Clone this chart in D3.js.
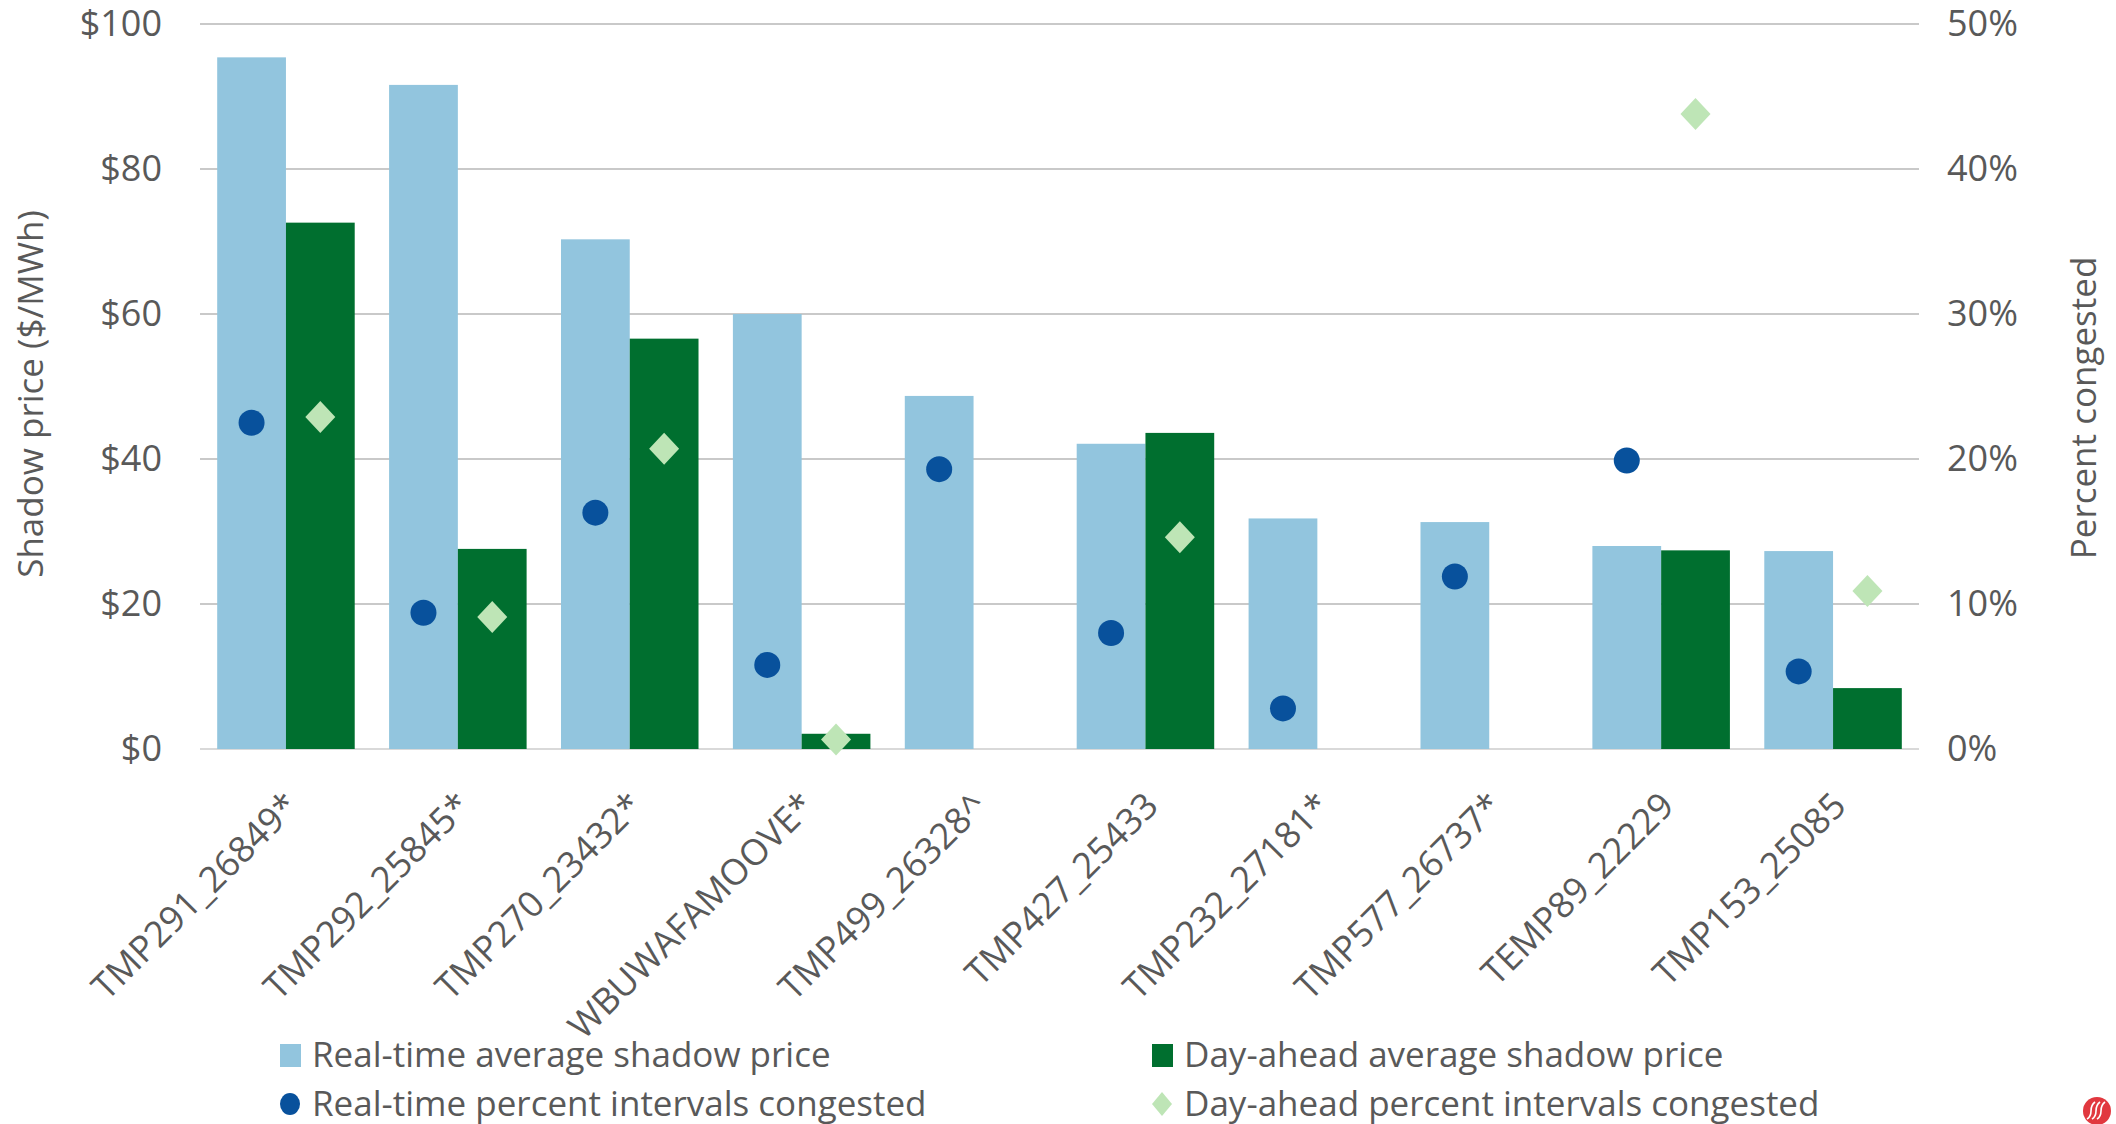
<!DOCTYPE html>
<html>
<head>
<meta charset="utf-8">
<script src="https://cdn.jsdelivr.net/npm/d3@7/dist/d3.min.js"></script>
<style>
  html, body { margin: 0; padding: 0; background: #ffffff; }
  svg { display: block; }
  text { font-family: "Open Sans", "Noto Sans", sans-serif; fill: #595959; }
</style>
</head>
<body>
<svg id="chart" width="2116" height="1124"></svg>
<script>
// Constraint names
const categories = ["TMP291_26849*", "TMP292_25845*", "TMP270_23432*", "WBUWAFAMOOVE*", "TMP499_26328^",
                    "TMP427_25433", "TMP232_27181*", "TMP577_26737*", "TEMP89_22229", "TMP153_25085"];
// Average shadow prices ($/MWh)
const rtPrice = [95.4, 91.6, 70.3, 60.0, 48.7, 42.1, 31.8, 31.3, 28.0, 27.3];
const daPrice = [72.6, 27.6, 56.6, 2.1, null, 43.6, null, null, 27.4, 8.4];
// Percent of intervals congested
const rtPct = [22.5, 9.4, 16.3, 5.8, 19.3, 8.0, 2.8, 11.9, 19.9, 5.35];
const daPct = [22.9, 9.1, 20.7, 0.65, null, 14.6, null, null, 43.8, 10.9];
// Axis ticks
const priceTicks = [0, 20, 40, 60, 80, 100];
const pctTicks = [0, 10, 20, 30, 40, 50];
const legendLabels = ["Real-time average shadow price", "Day-ahead average shadow price",
                      "Real-time percent intervals congested", "Day-ahead percent intervals congested"];

const colors = { rt: "#92C5DE", da: "#006F2F", rtDot: "#08519C", daDot: "#BEE5B6", grid: "#C9C9C9", base: "#D9D9D9" };

const svg = d3.select("#chart");
const plotLeft = 200, plotRight = 1919, plotTop = 24, plotBottom = 749;

const x = d3.scaleBand().domain(categories).range([plotLeft, plotRight]).paddingInner(0.2).paddingOuter(0.1);
const xs = d3.scaleBand().domain(["rt", "da"]).range([0, x.bandwidth()]);
const yPrice = d3.scaleLinear().domain([0, 100]).range([plotBottom, plotTop]);
const yPct = d3.scaleLinear().domain([0, 50]).range([plotBottom, plotTop]);

// Gridlines
svg.append("g").selectAll("line").data(priceTicks).join("line")
  .attr("x1", plotLeft).attr("x2", plotRight)
  .attr("y1", d => yPrice(d)).attr("y2", d => yPrice(d))
  .attr("stroke", d => d === 0 ? colors.base : colors.grid)
  .attr("stroke-width", 2);

// Left axis
const axL = svg.append("g").attr("transform", `translate(${plotLeft},0)`)
  .call(d3.axisLeft(yPrice).tickValues(priceTicks).tickFormat(d => "$" + d).tickSize(0).tickPadding(38));
axL.select(".domain").remove();
axL.selectAll("text").attr("font-size", 36).style("font-family", "'Open Sans', sans-serif").attr("fill", "#595959");

// Right axis
const axR = svg.append("g").attr("transform", `translate(${plotRight},0)`)
  .call(d3.axisRight(yPct).tickValues(pctTicks).tickFormat(d => d + "%").tickSize(0).tickPadding(28));
axR.select(".domain").remove();
axR.selectAll("text").attr("font-size", 36).style("font-family", "'Open Sans', sans-serif").attr("fill", "#595959");

// Bars
const groups = svg.append("g").selectAll("g").data(categories).join("g")
  .attr("transform", d => `translate(${x(d)},0)`);

groups.append("rect")
  .attr("x", xs("rt")).attr("width", xs.bandwidth())
  .attr("y", (d, i) => yPrice(rtPrice[i]))
  .attr("height", (d, i) => yPrice(0) - yPrice(rtPrice[i]))
  .attr("fill", colors.rt);

groups.filter((d, i) => daPrice[i] != null).append("rect")
  .attr("x", xs("da")).attr("width", xs.bandwidth())
  .attr("y", d => yPrice(daPrice[categories.indexOf(d)]))
  .attr("height", d => yPrice(0) - yPrice(daPrice[categories.indexOf(d)]))
  .attr("fill", colors.da);

// Markers
const diamond = (w, h) => `M0,${-h/2}L${w/2},0L0,${h/2}L${-w/2},0Z`;

groups.append("circle")
  .attr("cx", xs("rt") + xs.bandwidth() / 2)
  .attr("cy", (d, i) => yPct(rtPct[i]))
  .attr("r", 13)
  .attr("fill", colors.rtDot);

groups.filter((d, i) => daPct[i] != null).append("path")
  .attr("d", diamond(30, 32))
  .attr("transform", d => `translate(${xs("da") + xs.bandwidth() / 2},${yPct(daPct[categories.indexOf(d)])})`)
  .attr("fill", colors.daDot);

// Category labels
svg.append("g").selectAll("text").data(categories).join("text")
  .attr("transform", d => `translate(${x(d) + x.bandwidth() / 2 + 6},${plotBottom + 50}) rotate(-45)`)
  .attr("text-anchor", "end")
  .attr("dy", "0.35em")
  .attr("font-size", 36)
  .text(d => d);

// Axis titles
svg.append("text")
  .attr("transform", `translate(43,394) rotate(-90)`)
  .attr("text-anchor", "middle")
  .attr("font-size", 35)
  .text("Shadow price ($/MWh)");

svg.append("text")
  .attr("transform", `translate(2096,408) rotate(-90)`)
  .attr("text-anchor", "middle")
  .attr("font-size", 35)
  .text("Percent congested");

// Legend
const legendPos = [[280, 1055], [1152, 1055], [280, 1104], [1152, 1104]];
const legend = svg.append("g");
legendLabels.forEach((label, i) => {
  const [lx, ly] = legendPos[i];
  const g = legend.append("g").attr("transform", `translate(${lx},${ly})`);
  if (i === 0 || i === 1) {
    g.append("rect").attr("x", 0).attr("y", -11).attr("width", 21).attr("height", 23)
      .attr("fill", i === 0 ? colors.rt : colors.da);
  } else if (i === 2) {
    g.append("ellipse").attr("cx", 10).attr("cy", 0).attr("rx", 10).attr("ry", 11).attr("fill", colors.rtDot);
  } else {
    g.append("path").attr("d", diamond(20, 24)).attr("transform", "translate(10,0)").attr("fill", colors.daDot);
  }
  g.append("text").attr("x", 32).attr("dy", "0.35em").attr("font-size", 35).text(label);
});

// Corner badge
const badge = svg.append("g").attr("transform", "translate(2097,1111)");
badge.append("circle").attr("r", 14).attr("fill", "#E1383F");
[-6, -1, 4].forEach(o => {
  badge.append("path")
    .attr("d", `M${o - 4},8 C${o + 4},3 ${o - 4},-3 ${o + 4},-9`)
    .attr("stroke", "#ffffff").attr("stroke-width", 1.6).attr("fill", "none");
});
</script>
</body>
</html>
